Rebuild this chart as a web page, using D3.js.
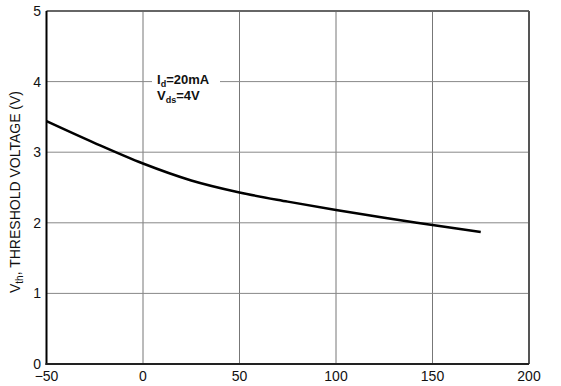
<!DOCTYPE html>
<html>
<head>
<meta charset="utf-8">
<script src="https://cdn.jsdelivr.net/npm/d3@7"></script>
<style>
body{margin:0;background:#fff;}
text{font-family:"Liberation Sans",Arial,sans-serif;}
</style>
</head>
<body>
<div id="container"></div>
<script>
var width = 561, height = 386;

// temperature (C) vs threshold voltage (V)
var temps = [-50, -25, 0, 25, 50, 75, 100, 125, 150, 175];
var vth = [3.44, 3.13, 2.84, 2.6, 2.43, 2.3, 2.18, 2.07, 1.97, 1.87];
var xTicks = [-50, 0, 50, 100, 150, 200];
var yTicks = [0, 1, 2, 3, 4, 5];

var pLeft = 46.5, pRight = 529, pTop = 11, pBottom = 364;

var x = d3.scaleLinear().domain([-50, 200]).range([pLeft, pRight]);
var y = d3.scaleLinear().domain([0, 5]).range([pBottom, pTop]);

var svg = d3.select('#container').append('svg')
	.attr('width', width).attr('height', height);

// grid
svg.append('g').selectAll('line').data(xTicks.slice(1, -1)).enter().append('line')
	.attr('x1', d => x(d)).attr('x2', d => x(d))
	.attr('y1', pTop).attr('y2', pBottom)
	.attr('stroke', '#777').attr('stroke-width', 1);
svg.append('g').selectAll('line').data(yTicks.slice(1, -1)).enter().append('line')
	.attr('x1', pLeft).attr('x2', pRight)
	.attr('y1', d => y(d)).attr('y2', d => y(d))
	.attr('stroke', '#888').attr('stroke-width', 1);

// frame: top/right grey, left/bottom black
svg.append('line').attr('x1', pLeft).attr('x2', pRight).attr('y1', pTop).attr('y2', pTop)
	.attr('stroke', '#666').attr('stroke-width', 2);
svg.append('line').attr('x1', pRight).attr('x2', pRight).attr('y1', pTop).attr('y2', pBottom)
	.attr('stroke', '#555').attr('stroke-width', 2);
svg.append('line').attr('x1', pLeft).attr('x2', pLeft).attr('y1', pTop).attr('y2', pBottom + 1)
	.attr('stroke', '#000').attr('stroke-width', 2);
svg.append('line').attr('x1', pLeft - 1).attr('x2', pRight).attr('y1', pBottom).attr('y2', pBottom)
	.attr('stroke', '#222').attr('stroke-width', 2);

// annotation box (breaks the gridline)
svg.append('rect').attr('x', 152).attr('y', 70).attr('width', 68).attr('height', 34).attr('fill', '#fff');
var ann = svg.append('g').attr('font-weight', 'bold').attr('font-size', 13).attr('fill', '#111');
var t1 = ann.append('text').attr('x', 157).attr('y', 84);
t1.append('tspan').text('I');
t1.append('tspan').attr('font-size', 9).attr('dy', 3).text('d');
t1.append('tspan').attr('dy', -3).text('=20mA');
var t2 = ann.append('text').attr('x', 157).attr('y', 100);
t2.append('tspan').text('V');
t2.append('tspan').attr('font-size', 9).attr('dy', 3).text('ds');
t2.append('tspan').attr('dy', -3).text('=4V');

// curve
var line = d3.line().x((d, i) => x(temps[i])).y(d => y(d)).curve(d3.curveMonotoneX);
svg.append('path').datum(vth).attr('d', line)
	.attr('fill', 'none').attr('stroke', '#000').attr('stroke-width', 2.5);

// tick labels
svg.append('g').selectAll('text').data(xTicks).enter().append('text')
	.attr('x', d => x(d)).attr('y', 381).attr('text-anchor', 'middle')
	.attr('font-size', 14).attr('fill', '#111')
	.text(d => d < 0 ? '\u2212' + Math.abs(d) : d);
svg.append('g').selectAll('text').data(yTicks).enter().append('text')
	.attr('x', 41).attr('y', d => y(d) + 5).attr('text-anchor', 'end')
	.attr('font-size', 14).attr('fill', '#111')
	.text(d => d);

// y title
var yt = svg.append('text').attr('transform', 'translate(20,192) rotate(-90)')
	.attr('text-anchor', 'middle').attr('font-size', 14).attr('fill', '#111');
yt.append('tspan').text('V');
yt.append('tspan').attr('font-size', 10).attr('dy', 3).text('th');
yt.append('tspan').attr('dy', -3).text(', THRESHOLD VOLTAGE (V)');
</script>
</body>
</html>
